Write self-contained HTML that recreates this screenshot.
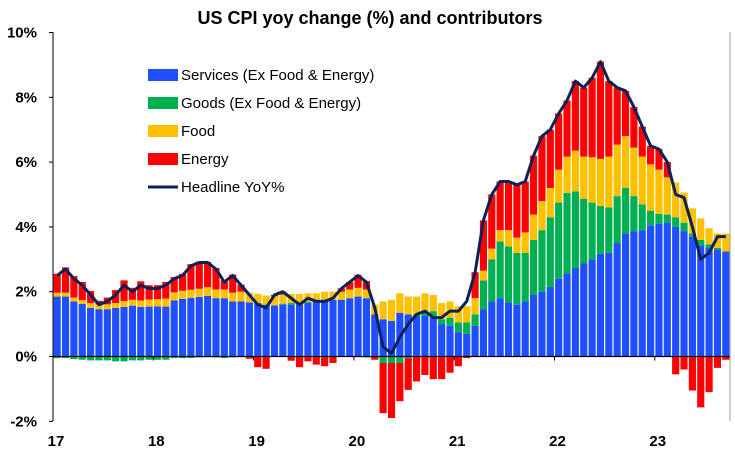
<!DOCTYPE html>
<html><head><meta charset="utf-8"><style>
html,body{margin:0;padding:0;background:#fff;}
svg{display:block;font-family:"Liberation Sans",Arial,sans-serif;}
</style></head><body>
<svg id="c" width="735" height="458" viewBox="0 0 735 458" xmlns="http://www.w3.org/2000/svg">
<rect width="735" height="458" fill="#fff"/>
<text x="370" y="24" text-anchor="middle" font-size="18" font-weight="bold">US CPI yoy change (%) and contributors</text>
<g id="bars"></g>
<g id="axes"></g>
</svg>
<script>
var S=[1.85,1.85,1.7,1.62,1.5,1.46,1.46,1.5,1.53,1.57,1.53,1.54,
1.55,1.54,1.73,1.78,1.81,1.84,1.87,1.8,1.8,1.7,1.7,1.67,
1.65,1.6,1.58,1.6,1.6,1.6,1.65,1.7,1.75,1.75,1.75,1.8,
1.85,1.8,1.3,1.15,1.1,1.35,1.3,1.25,1.25,1.2,1.0,0.95,
0.75,0.7,0.95,1.45,1.7,1.8,1.67,1.6,1.7,1.9,2.0,2.15,
2.4,2.56,2.73,2.87,3.0,3.17,3.2,3.5,3.8,3.87,3.9,4.05,
4.1,4.13,4.0,3.87,3.7,3.43,3.36,3.3,3.24];
var G=[-0.05,-0.05,-0.08,-0.1,-0.12,-0.12,-0.12,-0.15,-0.15,-0.12,-0.12,-0.1,
-0.1,-0.1,-0.05,-0.05,-0.05,-0.03,-0.02,-0.03,-0.05,-0.03,-0.02,-0.02,
0,0,0,0.03,0.05,0.05,0.03,0,-0.02,0,0,0,
-0.02,-0.03,0,-0.2,-0.2,-0.2,-0.05,0.05,0.15,0.2,0.15,0.25,
0.3,0.35,0.35,0.9,1.3,1.75,1.73,1.6,1.5,1.7,1.9,2.15,
2.35,2.49,2.37,2.0,1.75,1.48,1.4,1.45,1.4,1.08,0.8,0.45,
0.3,0.25,0.3,0.26,0.1,0.17,0.1,0.05,0.0];
var F=[0.12,0.12,0.12,0.12,0.15,0.15,0.15,0.15,0.18,0.18,0.2,0.22,
0.22,0.25,0.25,0.25,0.25,0.25,0.27,0.27,0.27,0.27,0.3,0.3,
0.28,0.28,0.28,0.28,0.28,0.28,0.27,0.25,0.25,0.25,0.25,0.27,
0.27,0.27,0.3,0.55,0.65,0.6,0.55,0.55,0.55,0.5,0.5,0.5,
0.5,0.5,0.5,0.3,0.33,0.35,0.5,0.47,0.63,0.78,0.9,0.9,
1.02,1.12,1.25,1.3,1.4,1.45,1.57,1.59,1.6,1.5,1.47,1.43,
1.37,1.15,1.07,0.93,0.77,0.66,0.5,0.45,0.55];
var H=[2.5,2.7,2.4,2.2,1.9,1.6,1.7,1.9,2.2,2.0,2.2,2.1,
2.1,2.2,2.4,2.5,2.8,2.9,2.9,2.7,2.3,2.5,2.2,1.9,
1.6,1.5,1.9,2.0,1.8,1.6,1.8,1.7,1.7,1.8,2.1,2.3,
2.5,2.3,1.5,0.3,0.1,0.6,1.0,1.3,1.4,1.2,1.2,1.4,
1.4,1.7,2.6,4.2,5.0,5.4,5.4,5.3,5.4,6.2,6.8,7.0,
7.5,7.9,8.5,8.3,8.6,9.1,8.5,8.3,8.2,7.7,7.1,6.5,
6.4,6.0,5.0,4.9,4.0,3.0,3.2,3.7,3.7];
var E=[];for(var i=0;i<81;i++)E.push(H[i]-S[i]-G[i]-F[i]);
var ov={39:-1.55,40:-1.7,41:-1.18,42:-0.98,43:-0.77,44:-0.57,45:-0.7,46:-0.7,47:-0.5,48:-0.3,49:-0.05,
74:-0.55,75:-0.4,76:-1.05,77:-1.57,78:-1.1,79:-0.35,80:-0.1};
for(var k in ov)E[k]=ov[k];
var X0=53,X1=730,N=81,P=(X1-X0)/N,Y0=356.5,U=32.4;
function y(v){return Y0-v*U;}
var ns="http://www.w3.org/2000/svg";
function el(t,a,p){var e=document.createElementNS(ns,t);for(var q in a)e.setAttribute(q,a[q]);(p||document.getElementById('bars')).appendChild(e);return e;}
var cols=[["#1F4FFF",S],["#00B050",G],["#FFC000",F],["#FF0000",E]];
for(var i=0;i<N;i++){
  var x=X0+i*P+0.6,w=P-1.2,pos=0,neg=0;
  for(var c=0;c<4;c++){var v=cols[c][1][i];
    if(v>=0){el('rect',{x:x,y:y(pos+v),width:w,height:v*U,fill:cols[c][0]});pos+=v;}
    else{el('rect',{x:x,y:y(neg),width:w,height:-v*U,fill:cols[c][0]});neg+=v;}
  }
}
var pts=[];for(var i=0;i<N;i++)pts.push((X0+(i+0.5)*P).toFixed(1)+","+y(H[i]).toFixed(1));
el('polyline',{points:pts.join(" "),fill:"none",stroke:"#0C2157","stroke-width":3,"stroke-linejoin":"round"});
var ax=document.getElementById('axes');
el('line',{x1:X0,y1:Y0,x2:X1,y2:Y0,stroke:"#000","stroke-width":1.2},ax);
el('line',{x1:X0,y1:32,x2:X0,y2:421,stroke:"#000","stroke-width":1},ax);
el('line',{x1:X1,y1:32,x2:X1,y2:421,stroke:"#999","stroke-width":1},ax);
for(var v=-2;v<=10;v+=2){var yy=y(v);
  el('line',{x1:X0-4,y1:yy,x2:X0,y2:yy,stroke:"#000"},ax);
  var t=el('text',{x:37,y:yy+5,"text-anchor":"end","font-size":15,"font-weight":"bold"},ax);t.textContent=v+"%";}
var yrs=["17","18","19","20","21","22","23"];
for(var j=0;j<7;j++){var xx=X0+j*12*P;
  el('line',{x1:xx,y1:Y0,x2:xx,y2:Y0+4,stroke:"#000"},ax);
  var t=el('text',{x:xx+3,y:446,"text-anchor":"middle","font-size":15,"font-weight":"bold"},ax);t.textContent=yrs[j];}
var lg=[["#1F4FFF","Services (Ex Food & Energy)"],["#00B050","Goods (Ex Food & Energy)"],["#FFC000","Food"],["#FF0000","Energy"]];
for(var j=0;j<4;j++){var yy=75+j*28;
  el('rect',{x:148,y:yy-6,width:30,height:12,fill:lg[j][0]},ax);
  var t=el('text',{x:181,y:yy+5,"font-size":15},ax);t.textContent=lg[j][1];}
el('line',{x1:148,y1:187,x2:178,y2:187,stroke:"#0C2157","stroke-width":3},ax);
var t=el('text',{x:181,y:192,"font-size":15},ax);t.textContent="Headline YoY%";
</script>
</body></html>
